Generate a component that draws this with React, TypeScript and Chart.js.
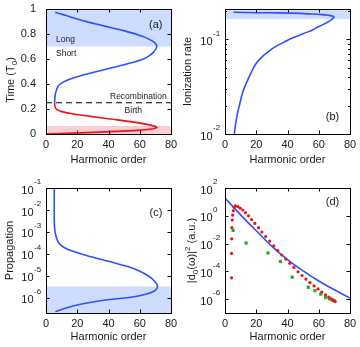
import React, { useEffect, useRef } from "react";
import { Chart, registerables } from "chart.js";
Chart.register(...registerables);

const FONT = "'Liberation Sans', Arial, 'DejaVu Sans', sans-serif";
const INK = "#1a1a1a";
const BLUE = "rgb(45,80,255)";
const RED = "rgb(235,20,20)";
const GREEN = "rgb(40,175,40)";
const BAND_BLUE = "rgb(205,220,255)";
const BAND_RED = "rgb(255,205,214)";

// shared harmonic-order axis
const harmonicRange = [0, 80];
const harmonicTicks = [0, 20, 40, 60, 80];

// (a) time vs harmonic order
const aTicks = [0, 0.2, 0.4, 0.6, 0.8, 1];
const recombX = [5.9, 9, 13, 19.8, 27, 34.7, 42, 49.6, 55.5, 60.2, 64.5, 67.7, 69.8, 70.9, 70.3, 68.7, 66, 62.3, 57.5, 51.7, 45.5, 39, 32.5, 26.2, 20.5, 15.5, 11.8, 9.1, 7.4, 6.6, 6.0, 5.7, 5.5];
const recombT = [0.973, 0.962, 0.948, 0.92, 0.895, 0.872, 0.85, 0.827, 0.807, 0.787, 0.767, 0.747, 0.727, 0.707, 0.68, 0.653, 0.625, 0.6, 0.58, 0.56, 0.54, 0.52, 0.5, 0.48, 0.46, 0.44, 0.42, 0.40, 0.375, 0.347, 0.32, 0.293, 0.253];
const birthX = [5.5, 5.7, 7.0, 10.2, 17.7, 28.4, 41.2, 54, 64.5, 69.8, 70.9, 67.7, 58, 45.3, 30.4, 13.4, 0];
const birthT = [0.253, 0.221, 0.195, 0.179, 0.16, 0.141, 0.12, 0.099, 0.077, 0.061, 0.051, 0.04, 0.029, 0.021, 0.013, 0.005, 0];
const aLongBand = [0.7, 1];
const aBirthBand = [0, 0.065];
const aDivider = [0.25];

// (b) ionization rate
const bRange = [0.01, 0.21];
const bDecades = [0.01, 0.1];
const bMinor = [0.02, 0.03, 0.04, 0.05, 0.06, 0.07, 0.08, 0.09, 0.2];
const bX = [5.4, 20, 34.8, 48, 56.2, 62, 66, 68.5, 69.7, 68.2, 65, 60, 56.4, 50, 43.5, 38, 32.8, 28, 24.2, 20, 16.7, 13.5, 11.3, 9.5, 8.1, 7, 6];
const bY = [0.194, 0.192, 0.191, 0.189, 0.186, 0.183, 0.18, 0.177, 0.173, 0.162, 0.15, 0.137, 0.127, 0.115, 0.104, 0.094, 0.085, 0.075, 0.0667, 0.056, 0.0446, 0.034, 0.0275, 0.021, 0.0168, 0.0135, 0.01];
const bBand = [0.165, 0.21];

// (c) propagation
const cRange = [2e-7, 0.1];
const cDecades = [1e-6, 1e-5, 1e-4, 1e-3, 1e-2, 1e-1];
const cX = [5.3, 5.3, 5.6, 6.4, 8.1, 11.3, 17.8, 26.4, 41.4, 56.4, 64.9, 69.7, 71.4, 69.7, 64.9, 56.4, 34.9, 17.8, 6];
const cY = [0.1, 3.6e-3, 1.26e-3, 6.3e-4, 3.2e-4, 2e-4, 1.26e-4, 8.1e-5, 4.3e-5, 2.1e-5, 1.05e-5, 5.5e-6, 3.3e-6, 2.1e-6, 1.5e-6, 1.1e-6, 7.2e-7, 4.3e-7, 2.3e-7];
const cBand = [2e-7, 3.2e-6];

// (d) dipole spectrum
const dRange = [1e-7, 100];
const dDecades = [1e-6, 1e-4, 1e-2, 1, 100];
const dLineX = [0, 10, 20, 30, 40, 50, 60, 70, 80];
const dLineY = [18.6, 1.17, 0.083, 6.3e-3, 7.1e-4, 1.07e-4, 2e-5, 4.7e-6, 1.17e-6];
const dRedX = [4.2, 4.2, 4.3, 4.4, 4.6, 4.9, 5.3, 5.9, 6.65, 8.2, 9.7, 11.4, 13.1, 15.0, 17.0, 19.1, 21.5, 23.6, 26.0, 28.6, 31.2, 33.8, 36.3, 38.9, 41.5, 44.1, 46.7, 49.3, 51.8, 54.4, 57.0, 59.6, 61.9, 64.3, 66.5, 68.2, 69.5, 70.6];
const dRedY = [3.4e-5, 1.95e-3, 0.022, 0.14, 0.49, 1.12, 2.3, 4.1, 5.1, 4.6, 3.5, 2.6, 1.66, 1.0, 0.54, 0.28, 0.14, 0.068, 0.032, 0.015, 6.8e-3, 3.1e-3, 1.5e-3, 7.6e-4, 3.8e-4, 1.9e-4, 9.3e-5, 5e-5, 2.75e-5, 1.55e-5, 8.9e-6, 5.4e-6, 3.2e-6, 2.0e-6, 1.4e-6, 1.0e-6, 7.9e-7, 6.6e-7];
const dGreenX = [5.2, 13.5, 27.5, 35.5, 43.0, 53.3, 57.6, 61.3, 64.5, 66.9, 68.6, 69.9];
const dGreenY = [0.089, 0.011, 2.1e-3, 5.1e-4, 3.8e-5, 7.1e-6, 4.1e-6, 2.3e-6, 1.3e-6, 1.05e-6, 8.9e-7, 7.4e-7];

const pts = (xs: number[], ys: number[]) => xs.map((x, i) => ({ x, y: ys[i] }));
const flat = (y: number) => [{ x: harmonicRange[0], y }, { x: harmonicRange[1], y }];

type Seg = { t: string; size: number; dy: number };
type Note = { text: string; x: number; y: number; size: number; align: CanvasTextAlign };
type Deco = {
  yMajor: number[];
  yMinor?: number[];
  logLabels?: boolean;
  notes: Note[];
  title?: { segs: Seg[]; cx: number; cy?: number };
};

function decoPlugin(d: Deco) {
  return {
    id: "deco",
    afterDraw(chart: any) {
      const { ctx, chartArea: a } = chart;
      const xs = chart.scales.x, ys = chart.scales.y;
      ctx.save();
      ctx.fillStyle = INK;
      ctx.textBaseline = "middle";
      for (const n of d.notes) {
        ctx.font = `${n.size}px ${FONT}`;
        ctx.textAlign = n.align;
        ctx.fillText(n.text, xs.getPixelForValue(n.x), ys.getPixelForValue(n.y));
      }
      ctx.strokeStyle = "#000";
      ctx.lineWidth = 1;
      ctx.beginPath();
      const TL = 3.5;
      for (const v of harmonicTicks) {
        const p = Math.round(xs.getPixelForValue(v)) + 0.5;
        ctx.moveTo(p, a.bottom); ctx.lineTo(p, a.bottom - TL);
        ctx.moveTo(p, a.top); ctx.lineTo(p, a.top + TL);
      }
      for (const v of d.yMajor) {
        const p = Math.round(ys.getPixelForValue(v)) + 0.5;
        ctx.moveTo(a.left, p); ctx.lineTo(a.left + TL, p);
        ctx.moveTo(a.right, p); ctx.lineTo(a.right - TL, p);
      }
      for (const v of d.yMinor ?? []) {
        const p = Math.round(ys.getPixelForValue(v)) + 0.5;
        ctx.moveTo(a.left, p); ctx.lineTo(a.left + 2, p);
        ctx.moveTo(a.right, p); ctx.lineTo(a.right - 2, p);
      }
      ctx.stroke();
      ctx.strokeRect(a.left + 0.5, a.top + 0.5, a.right - a.left, a.bottom - a.top);
      if (d.logLabels) {
        for (const v of d.yMajor) {
          const p = ys.getPixelForValue(v);
          const e = Math.round(Math.log10(v));
          const xr = a.left - 12.5;
          ctx.textBaseline = "alphabetic";
          ctx.font = `11px ${FONT}`;
          ctx.textAlign = "right";
          ctx.fillText("10", xr, p + 5.6);
          ctx.font = `8px ${FONT}`;
          ctx.textAlign = "left";
          ctx.fillText(String(e), xr + 0.5, p - 3.8);
        }
      }
      if (d.title) {
        const cy = d.title.cy ?? (a.top + a.bottom) / 2;
        ctx.translate(d.title.cx, cy);
        ctx.rotate(-Math.PI / 2);
        let total = 0;
        for (const s of d.title.segs) {
          ctx.font = `${s.size}px ${FONT}`;
          total += ctx.measureText(s.t).width;
        }
        let x = -total / 2;
        ctx.textAlign = "left";
        ctx.textBaseline = "alphabetic";
        for (const s of d.title.segs) {
          ctx.font = `${s.size}px ${FONT}`;
          ctx.fillText(s.t, x, 4 + s.dy);
          x += ctx.measureText(s.t).width;
        }
      }
      ctx.restore();
    },
  };
}

function xAxis(height: number, titlePadBottom: number) {
  return {
    type: "linear",
    min: harmonicRange[0],
    max: harmonicRange[1],
    afterBuildTicks: (s: any) => { s.ticks = harmonicTicks.map((v) => ({ value: v })); },
    ticks: { font: { family: FONT, size: 11 }, color: INK, padding: 4, maxRotation: 0, autoSkip: false },
    grid: { display: false, drawTicks: false },
    border: { display: false },
    title: { display: true, text: "Harmonic order", font: { family: FONT, size: 11 }, color: INK, padding: { top: 0, bottom: titlePadBottom } },
    afterFit: (s: any) => { s.height = height; s.paddingLeft = 0; s.paddingRight = 0; },
  };
}

function logY(range: number[], width: number, title?: string, titlePad = 0) {
  return {
    type: "logarithmic",
    min: range[0],
    max: range[1],
    ticks: { display: false },
    grid: { display: false, drawTicks: false },
    border: { display: false },
    title: { display: !!title, text: title ?? "", font: { family: FONT, size: 11 }, color: INK, padding: { top: titlePad, bottom: 0 } },
    afterFit: (s: any) => { s.width = width; s.paddingTop = 0; s.paddingBottom = 0; },
  };
}

function curve(data: any[], color: string, order = 1) {
  return { data, showLine: true, borderColor: color, borderWidth: 1.6, pointRadius: 0, tension: 0.35, fill: false, order };
}
function band(y: number, fill: any, color: string) {
  return { data: flat(y), showLine: true, borderWidth: 0, borderColor: "rgba(0,0,0,0)", backgroundColor: color, pointRadius: 0, fill, order: 10 };
}

function baseOptions(pad: { top: number; right: number }, scales: any) {
  return {
    responsive: false,
    maintainAspectRatio: false,
    animation: false,
    layout: { padding: { left: 0, top: pad.top, right: pad.right, bottom: 0 } },
    plugins: { legend: { display: false }, tooltip: { enabled: false } },
    scales,
  };
}

function configA() {
  return {
    type: "scatter",
    data: {
      datasets: [
        curve(pts(recombX, recombT), BLUE, 1),
        curve(pts(birthX, birthT), RED, 1),
        { data: flat(aDivider[0]), showLine: true, borderColor: "#000", borderWidth: 1, borderDash: [6, 4], pointRadius: 0, order: 2 },
        band(aLongBand[0], { value: aLongBand[1] }, BAND_BLUE),
        band(aBirthBand[1], { value: aBirthBand[0] }, BAND_RED),
      ],
    },
    options: baseOptions({ top: 9, right: 9 }, {
      x: xAxis(40, 7.4),
      y: {
        type: "linear", min: 0, max: 1,
        afterBuildTicks: (s: any) => { s.ticks = aTicks.map((v) => ({ value: v })); },
        ticks: { font: { family: FONT, size: 11 }, color: INK, padding: 10, callback: (v: any) => String(v) },
        grid: { display: false, drawTicks: false },
        border: { display: false },
        title: { display: false },
        afterFit: (s: any) => { s.width = 46; s.paddingTop = 0; s.paddingBottom = 0; },
      },
    }),
    plugins: [decoPlugin({
      yMajor: aTicks,
      notes: [
        { text: "(a)", x: 70.2, y: 0.872, size: 11, align: "center" },
        { text: "Long", x: 6.4, y: 0.758, size: 8.5, align: "left" },
        { text: "Short", x: 6.4, y: 0.646, size: 8.5, align: "left" },
        { text: "Recombination", x: 59.1, y: 0.298, size: 8.5, align: "center" },
        { text: "Birth", x: 55.9, y: 0.184, size: 8.5, align: "center" },
      ],
      title: { cx: 10, cy: 80, segs: [{ t: "Time (T", size: 11, dy: 0 }, { t: "0", size: 8, dy: 2.5 }, { t: ")", size: 11, dy: 0 }] },
    })],
  };
}

function configB() {
  return {
    type: "scatter",
    data: { datasets: [curve(pts(bX, bY), BLUE, 1), band(bBand[0], { value: bBand[1] }, BAND_BLUE)] },
    options: baseOptions({ top: 9, right: 10 }, { x: xAxis(40, 7.4), y: logY(bRange, 45, "Ionization rate", 1.7) }),
    plugins: [decoPlugin({
      yMajor: bDecades, yMinor: bMinor, logLabels: true,
      notes: [{ text: "(b)", x: 68.8, y: 0.015, size: 11, align: "center" }],
    })],
  };
}

function configC() {
  return {
    type: "scatter",
    data: { datasets: [curve(pts(cX, cY), BLUE, 1), band(cBand[1], { value: cBand[0] }, BAND_BLUE)] },
    options: baseOptions({ top: 14, right: 9 }, { x: xAxis(34, 3.7), y: logY(cRange, 46, "Propagation", 3) }),
    plugins: [decoPlugin({
      yMajor: cDecades, logLabels: true,
      notes: [{ text: "(c)", x: 70.4, y: 7.5e-3, size: 11, align: "center" }],
    })],
  };
}

function configD() {
  return {
    type: "scatter",
    data: {
      datasets: [
        { ...curve(pts(dLineX, dLineY), BLUE, 3), tension: 0.3 },
        { data: pts(dRedX, dRedY), showLine: false, pointRadius: 1.6, pointBorderWidth: 0, pointBackgroundColor: RED, order: 1 },
        { data: pts(dGreenX, dGreenY), showLine: false, pointStyle: "rect", pointRadius: 2.3, pointBorderWidth: 0, pointBackgroundColor: GREEN, order: 2 },
      ],
    },
    options: baseOptions({ top: 14, right: 10 }, { x: xAxis(34, 3.7), y: logY(dRange, 45) }),
    plugins: [decoPlugin({
      yMajor: dDecades, logLabels: true,
      notes: [{ text: "(d)", x: 68.8, y: 10.7, size: 11, align: "center" }],
      title: {
        cx: 11,
        segs: [
          { t: "|d", size: 11, dy: 0 }, { t: "0", size: 8, dy: 2.5 }, { t: "(ω)|", size: 11, dy: 0 },
          { t: "2", size: 8, dy: -5 }, { t: " (a.u.)", size: 11, dy: 0 },
        ],
      },
    })],
  };
}

function Panel({ make, left, top, w, h }: { make: () => any; left: number; top: number; w: number; h: number }) {
  const ref = useRef<HTMLCanvasElement>(null);
  useEffect(() => {
    const chart = new Chart(ref.current as HTMLCanvasElement, make());
    return () => chart.destroy();
  }, []);
  return <canvas ref={ref} width={w} height={h} style={{ position: "absolute", left, top, width: w, height: h, display: "block" }} />;
}

export default function App() {
  return (
    <div style={{ position: "fixed", left: 0, top: 0, width: 360, height: 347, background: "#fff" }}>
      <Panel make={configA} left={0} top={0} w={180} h={174} />
      <Panel make={configB} left={180} top={0} w={180} h={174} />
      <Panel make={configC} left={0} top={174} w={180} h={173} />
      <Panel make={configD} left={180} top={174} w={180} h={173} />
    </div>
  );
}
